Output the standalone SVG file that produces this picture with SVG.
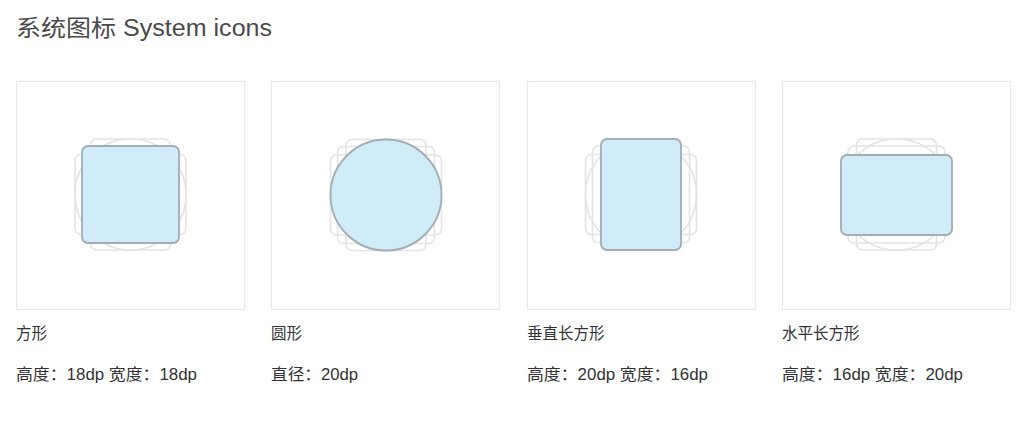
<svg xmlns="http://www.w3.org/2000/svg" xmlns:xlink="http://www.w3.org/1999/xlink" width="1024" height="427" viewBox="0 0 1024 427">
<style>
.panel{fill:#fff;stroke:#e8e8e8;stroke-width:1.2}
.key{fill:none;stroke:#e4e4e4;stroke-width:1.6}
.hl{fill:#d0ecf9;stroke:#a3adb3;stroke-width:1.8}
.title{font-family:"Liberation Sans","Noto Sans CJK SC",sans-serif;font-size:23px;fill:#4a4a4a}
.name{font-family:"Liberation Sans","Noto Sans CJK SC",sans-serif;font-size:15.5px;fill:#333}
.dim{font-family:"Liberation Sans","Noto Sans CJK SC",sans-serif;font-size:16px;fill:#333}
</style>
<defs>
<g id="keys">
<rect class="key" x="-48.5" y="-48.5" width="97" height="97" rx="6"/>
<circle class="key" cx="0" cy="0" r="55.5"/>
<rect class="key" x="-40" y="-55.5" width="80" height="111" rx="6"/>
<rect class="key" x="-55.5" y="-40" width="111" height="80" rx="6"/>
</g>
</defs>
<rect width="1024" height="427" fill="#fff"/>
<text class="title" x="16" y="36" textLength="256" lengthAdjust="spacingAndGlyphs">系统图标 System icons</text>
<g id="square">
<rect class="panel" x="16.5" y="81.5" width="228" height="228"/>
<use xlink:href="#keys" x="130.5" y="194.5"/>
<rect class="hl" x="82" y="146" width="97" height="97" rx="6"/>
<text class="name" x="16" y="339">方形</text>
<text class="dim" x="16" y="380" textLength="181" lengthAdjust="spacingAndGlyphs">高度：18dp 宽度：18dp</text>
</g>
<g id="circle">
<rect class="panel" x="271.5" y="81.5" width="228" height="228"/>
<use xlink:href="#keys" x="386" y="195"/>
<circle class="hl" cx="386" cy="195" r="55.5"/>
<text class="name" x="271" y="339">圆形</text>
<text class="dim" x="271" y="380" textLength="87" lengthAdjust="spacingAndGlyphs">直径：20dp</text>
</g>
<g id="vertical">
<rect class="panel" x="527.5" y="81.5" width="228" height="228"/>
<use xlink:href="#keys" x="641" y="194.5"/>
<rect class="hl" x="601" y="139" width="80" height="111" rx="6"/>
<text class="name" x="527" y="339">垂直长方形</text>
<text class="dim" x="527" y="380" textLength="181" lengthAdjust="spacingAndGlyphs">高度：20dp 宽度：16dp</text>
</g>
<g id="horizontal">
<rect class="panel" x="782.5" y="81.5" width="228" height="228"/>
<use xlink:href="#keys" x="896.5" y="194.5"/>
<rect class="hl" x="841" y="155" width="111" height="80" rx="6"/>
<text class="name" x="782" y="339">水平长方形</text>
<text class="dim" x="782" y="380" textLength="181" lengthAdjust="spacingAndGlyphs">高度：16dp 宽度：20dp</text>
</g>
<g id="connectors"></g>
</svg>
